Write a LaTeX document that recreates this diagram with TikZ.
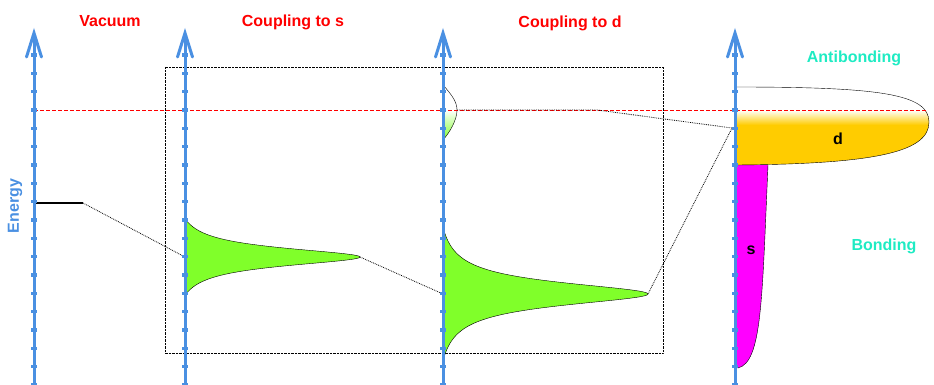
\documentclass[tikz,border=0pt]{standalone}
\usepackage{fontspec}
\setmainfont{Liberation Sans}
\usetikzlibrary{arrows.meta}
\definecolor{axisblue}{RGB}{74,144,226}
\definecolor{peakgreen}{RGB}{128,255,42}
\definecolor{dyellow}{RGB}{255,204,0}
\definecolor{smagenta}{RGB}{255,0,255}
\definecolor{bondteal}{RGB}{30,235,195}
\tikzset{
	energyaxis/.style={axisblue, line width=3pt, -{Straight Barb[length=24pt,width=15pt,line cap=round]}},
	tickmark/.style={axisblue, line width=3.5pt},
	title/.style={red, font=\fontsize{16}{18}\selectfont\bfseries},
	link/.style={densely dotted, line width=0.8pt},
	dos/.style={draw=black, thin}
}
\begin{document}
\begin{tikzpicture}[x=1pt, y=-1pt]
		\useasboundingbox (0,0) rectangle (934,385);
		% headings
		\node[title](vacuum) at (110,21) {Vacuum};
		\node[title](couples) at (293,22) {Coupling to s};
		\node[title](coupled) at (570,23) {Coupling to d};
		\node[title, bondteal](antibonding) at (854,58) {Antibonding};
		\node[title, bondteal](bonding) at (884,246) {Bonding};
		\node[title, axisblue, rotate=90](energy) at (15,206) {Energy};
		% coupling box
		\draw[densely dotted] (165,67) rectangle (663,353);
		% densities of states
		\filldraw[fill=peakgreen, dos] plot[domain=-38.5:38.5, samples=161, smooth]
		({185+175*(121/(\x*\x+121)-0.0755)/0.9245}, {257+\x}) -- cycle;
		\filldraw[fill=peakgreen, dos] plot[domain=-67:67, samples=241, smooth]
		({443+205*(196/(\x*\x+196)-0.0418)/0.9582}, {294+\x}) -- cycle;
		\shade[top color=white, bottom color=peakgreen] (443,110) -- (457,110)
		.. controls (457,120) and (450,132) .. (443,140) -- cycle;
		\draw[dos] (443,85) .. controls (452,95) and (457,102) .. (457,110)
		.. controls (457,120) and (450,132) .. (443,140);
		% bonding s band
		\fill[smagenta] (736,165) -- (768,165) .. controls (762,300) and (762,362) .. (738,368) -- (736,368) -- cycle;
		\draw[dos] (768,165) .. controls (762,300) and (762,362) .. (738,368);
		% d band
		\begin{scope}
			\clip (736,87) .. controls (880,87) and (929,94) .. (929,122)
			.. controls (929,151) and (880,164) .. (736,165) -- cycle;
			\fill[dyellow] (736,110) rectangle (930,170);
			\shade[top color=white, bottom color=dyellow] (736,110) rectangle (930,125);
		\end{scope}
		\draw[dos] (736,87) .. controls (880,87) and (929,94) .. (929,122)
		.. controls (929,151) and (880,164) .. (736,165);
		\node[font=\fontsize{16}{18}\selectfont\bfseries](dlabel) at (838,139) {d};
		\node[font=\fontsize{16}{18}\selectfont\bfseries](slabel) at (751,250) {s};
		% Fermi level
		\draw[red, dash pattern=on 4pt off 2pt] (34,110) -- (927,110);
		% levels and links
		\coordinate (vaclevel) at (83,203);
		\coordinate (sfoot) at (185,257);
		\coordinate (stip) at (360,257);
		\coordinate (dfoot) at (443,294);
		\coordinate (dtip) at (648,294);
		\coordinate (bumptip) at (457,110);
		\coordinate (kink) at (597,110);
		\coordinate (bandfoot) at (732,128);
		\draw[line width=2.5pt] (34,203) -- (vaclevel);
		\draw[link] (vaclevel) -- (sfoot)
		(stip) -- (dfoot)
		(dtip) -- (bandfoot)
		(bumptip) -- (kink) -- (bandfoot);
		% energy axes
		\foreach \ax in {34,185,443,735} {
			\draw[energyaxis] (\ax,385) -- (\ax,28);
			\foreach \k in {0,...,18}
			\draw[tickmark] (\ax-3,55+18.33*\k) -- (\ax+3,55+18.33*\k);
		}
	\end{tikzpicture}
\end{document}
